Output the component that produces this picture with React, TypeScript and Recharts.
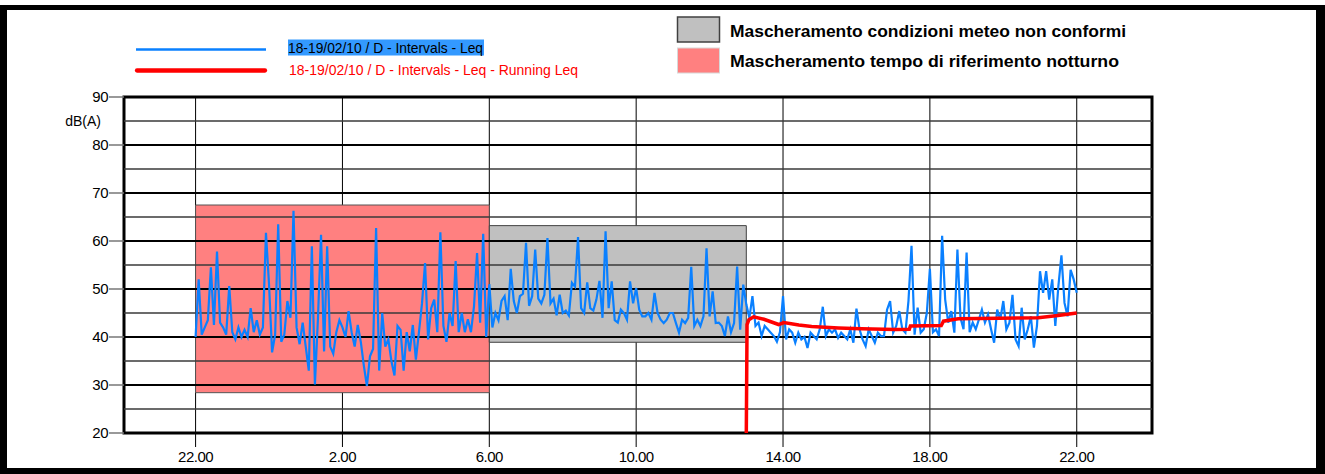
import React from 'react';
import { ComposedChart, Line, XAxis, YAxis, CartesianGrid, ReferenceArea, ReferenceLine } from 'recharts';

// Leq measured every 5 minutes, starting at 22:00 (hours are counted from 22:00 of day 1)
const INTERVAL_MIN = 5;
const leqValues: number[] = [
  // 22:00
  40, 52, 40.5, 42, 43.5, 54.5, 42.5, 57.8, 43, 42, 40.5, 50.6,
  // 23:00
  41, 39.5, 42, 40, 41.5, 40, 46, 41, 43.5, 40.5, 42, 61.7,
  // 0:00
  51, 36.8, 40.5, 63.5, 39, 40.5, 47.5, 44, 66.3, 42, 38.5, 43,
  // 1:00
  38, 33, 58.9, 30.1, 44, 61.3, 37, 58.9, 38, 36.5, 41, 43.5,
  // 2:00
  42, 40, 45.4, 41, 38, 42.5, 39, 34, 29.8, 36, 37.5, 62.7,
  // 3:00
  33, 45, 38, 39.5, 35, 32, 42.3, 41.5, 33, 41, 37, 42.5,
  // 4:00
  35.3, 41, 47, 55.4, 39.5, 46, 47.8, 41, 61.8, 42.3, 39, 45,
  // 5:00
  42.3, 55.8, 41, 45, 41, 43.7, 41, 46.4, 57.5, 43, 61.5, 40,
  // 6:00
  51, 42, 45, 43.5, 47.5, 48.5, 43.5, 54.2, 47.5, 45, 48.5, 49,
  // 7:00
  59.6, 46.5, 48.5, 58.2, 48, 47, 48.8, 60.6, 47, 48, 44.5, 48.8,
  // 8:00
  45, 45.5, 44.5, 51.3, 50.5, 60.8, 46, 45, 51.4, 46, 45.5, 47.8,
  // 9:00
  51.7, 44, 62, 46, 51.6, 43.5, 43, 45.7, 45, 43.6, 51.6, 47,
  // 10:00
  50.2, 45.7, 44.3, 44.3, 45, 43.6, 49.2, 45, 43.6, 42.9, 43.6, 45,
  // 11:00
  45, 42.9, 40.9, 43.6, 42.9, 44, 54.6, 42.3, 43.6, 42.3, 44.3, 58.5,
  // 12:00
  44.3, 49.5, 42.9, 43, 42.3, 40.2, 44.3, 41, 42.9, 54.7, 41.5, 50.9,
  // 13:00
  46.8, 44, 48.5, 42.3, 43, 40.2, 42.3, 41.6, 40.9, 40.2, 39, 41,
  // 14:00
  48.5, 39.5, 41.6, 40.9, 38.8, 40.9, 39.5, 40, 37.7, 40.9, 40.2, 39.5,
  // 15:00
  41.6, 46.3, 40.2, 41.6, 40.9, 41.6, 39.8, 40.9, 40.2, 39.5, 41.6, 38.8,
  // 16:00
  45.9, 41.6, 39.5, 38.1, 41.6, 40.2, 38.8, 40.9, 40.2, 40.2, 45.7, 47.5,
  // 17:00
  40.9, 42.3, 45.4, 41.6, 40.9, 47.5, 59, 40.5, 46.1, 40.9, 41.6, 45,
  // 18:00
  54.2, 41, 41.6, 40.2, 61.1, 47.8, 43, 45.4, 40.9, 58.2, 44, 41.6,
  // 19:00
  57.6, 41, 43, 41.6, 43.6, 45.7, 43, 44.7, 41.6, 38.8, 45.7, 43.6,
  // 20:00
  47.5, 41.6, 43, 48.8, 39.5, 38.1, 46.1, 39.5, 41.6, 44.3, 37.8, 42.3,
  // 21:00
  53.7, 49.2, 53.7, 47.8, 52, 42.3, 50.6, 57, 47.1, 44.3, 54, 52,
  // 22:00
  49.2,
];

// Running Leq (hours from 22:00, dB(A))
const runningTimes: number[] = [15.0, 15.02, 15.07, 15.2, 15.48, 15.88, 16.02, 16.43, 16.78, 17.51, 18.14, 19.06, 19.44, 19.47, 20.31, 20.37, 20.77, 21.86, 22.95, 23.49, 24.0];
const runningValues: number[] = [20, 42.6, 43.6, 44.2, 43.7, 42.6, 43.0, 42.5, 42.2, 41.9, 41.7, 41.55, 41.6, 42.3, 42.4, 43.3, 43.8, 43.9, 44.0, 44.5, 45.0];

const xDomain: [number, number] = [-1.95, 26.05];
const xTicks = [0, 4, 8, 12, 16, 20, 24];
const xTickLabels = ['22.00', '2.00', '6.00', '10.00', '14.00', '18.00', '22.00'];
const yDomain: [number, number] = [20, 90];
const yTicks = [20, 30, 40, 50, 60, 70, 80, 90];
const yGridMajor = [30, 40, 50, 60, 70, 80];
const yGridMinor = [25, 35, 45, 55, 65, 75, 85];

// masks: [start hour, end hour, low dB, high dB]
const nightMask = [0, 8, 28.4, 67.5];
const meteoMask = [8, 15, 38.9, 63.2];

const legendSeries = ['18-19/02/10 / D - Intervals - Leq', '18-19/02/10 / D - Intervals - Leq - Running Leq'];
const legendMasks = ['Mascheramento condizioni meteo non conformi', 'Mascheramento tempo di riferimento notturno'];
const yUnit = 'dB(A)';

const leqData = leqValues.map((v, i) => ({ t: (i * INTERVAL_MIN) / 60, v }));
const runData = runningTimes.map((t, i) => ({ t, v: runningValues[i] }));

const FONT = '"Liberation Sans", Arial, Helvetica, sans-serif';
const BLUE = '#0A80FF';
const RED = '#FF0000';

export default function App() {
  return (
    <div style={{ position: 'absolute', left: 0, top: 0, width: 1325, height: 474, background: '#fff', overflow: 'hidden', fontFamily: FONT }}>
      <ComposedChart width={1325} height={474} margin={{ top: 97, right: 173, left: 64, bottom: 10 }}>
        <CartesianGrid horizontal={false} vertical={true} stroke="#000" strokeWidth={1} />
        <XAxis
          type="number"
          dataKey="t"
          domain={xDomain}
          allowDataOverflow
          ticks={xTicks}
          interval={0}
          tickFormatter={(v: number) => xTickLabels[xTicks.indexOf(v)]}
          tickSize={14}
          tickMargin={4}
          height={31}
          axisLine={false}
          tickLine={{ stroke: '#000', strokeWidth: 1 }}
          tick={{ fill: '#000', fontSize: 15, fontFamily: FONT, letterSpacing: -0.5 }}
        />
        <YAxis
          type="number"
          domain={yDomain}
          allowDataOverflow
          ticks={yTicks}
          interval={0}
          width={60}
          tickSize={15}
          tickMargin={1}
          axisLine={false}
          tickLine={{ stroke: '#777', strokeWidth: 1.5 }}
          tick={{ fill: '#000', fontSize: 15, fontFamily: FONT, letterSpacing: -0.5 }}
        />
        {yGridMinor.map((v) => (
          <ReferenceLine key={'mi' + v} y={v} stroke="#3a3a3a" strokeWidth={1.5} />
        ))}
        {yGridMajor.map((v) => (
          <ReferenceLine key={'ma' + v} y={v} stroke="#000" strokeWidth={2} />
        ))}
        <ReferenceArea x1={nightMask[0]} x2={nightMask[1]} y1={nightMask[2]} y2={nightMask[3]} fill="#FF8080" fillOpacity={1} stroke="#555" strokeWidth={1} />
        <ReferenceArea x1={meteoMask[0]} x2={meteoMask[1]} y1={meteoMask[2]} y2={meteoMask[3]} fill="#C0C0C0" fillOpacity={1} stroke="#404040" strokeWidth={1} />
        <Line data={leqData} dataKey="v" type="linear" stroke={BLUE} strokeWidth={2.2} dot={false} activeDot={false} isAnimationActive={false} />
        <Line data={runData} dataKey="v" type="linear" stroke={RED} strokeWidth={3.5} dot={false} activeDot={false} isAnimationActive={false} />
        <ReferenceArea x1={xDomain[0]} x2={xDomain[1]} y1={yDomain[0]} y2={yDomain[1]} fill="none" fillOpacity={0} stroke="#000" strokeWidth={3} />
      </ComposedChart>

      <svg width={1325} height={474} style={{ position: 'absolute', left: 0, top: 0, pointerEvents: 'none' }}>
        {/* series legend */}
        <line x1={136} y1={49.5} x2={266} y2={49.5} stroke={BLUE} strokeWidth={2.5} />
        <rect x={288} y={39.5} width={196} height={16} fill="#3399FF" />
        <text x={288} y={53} fontSize={15} fontFamily={FONT} fill="#000" textLength={195} lengthAdjust="spacingAndGlyphs">{legendSeries[0]}</text>
        <line x1={137} y1={70.5} x2={265} y2={70.5} stroke={RED} strokeWidth={4.3} strokeLinecap="round" />
        <text x={289} y={74.5} fontSize={15} fontFamily={FONT} fill={RED} textLength={289} lengthAdjust="spacingAndGlyphs">{legendSeries[1]}</text>
        {/* mask legend */}
        <rect x={677.5} y={17} width={42} height={25} fill="#C0C0C0" stroke="#404040" strokeWidth={1.5} />
        <text x={730} y={36.5} fontSize={16} fontWeight="bold" fontFamily={FONT} fill="#000" textLength={396} lengthAdjust="spacingAndGlyphs">{legendMasks[0]}</text>
        <rect x={677.5} y={48} width={42} height={25} fill="#FF8080" stroke="#d8d8d8" strokeWidth={1} />
        <text x={730} y={67} fontSize={16} fontWeight="bold" fontFamily={FONT} fill="#000" textLength={389} lengthAdjust="spacingAndGlyphs">{legendMasks[1]}</text>
        {/* unit */}
        <text x={101} y={126} fontSize={14} fontFamily={FONT} fill="#000" textAnchor="end">{yUnit}</text>
      </svg>

      <div style={{ position: 'absolute', left: 0, top: 5, width: 1325, height: 469, boxSizing: 'border-box', borderStyle: 'solid', borderColor: '#000', borderWidth: '5px 9px 6px 7px', pointerEvents: 'none' }} />
    </div>
  );
}
